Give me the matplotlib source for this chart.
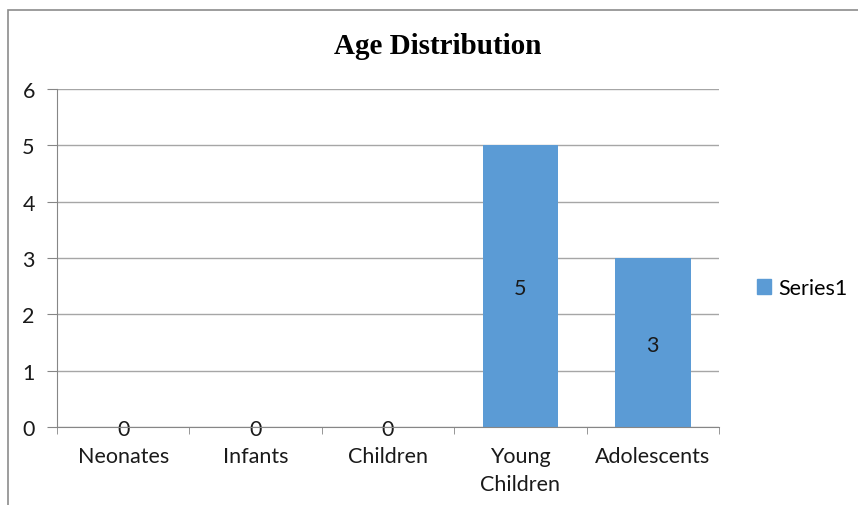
import matplotlib.pyplot as plt
from matplotlib.patches import Rectangle, Patch

# Datos del grafico
categorias = ['Neonates', 'Infants', 'Children', 'Young\nChildren', 'Adolescents']
valores = [0, 0, 0, 5, 3]
titulo = 'Age Distribution'
serie = 'Series1'

cor_barra = '#5B9BD5'
cor_grade = '#A6A6A6'
cor_eixo = '#868686'
cor_texto = '#1a1a1a'
tam = 15.5

plt.rcParams['font.family'] = ['Lato', 'DejaVu Sans']

fig = plt.figure(figsize=(8.58, 5.06), dpi=100)
ax = fig.add_axes([57/858, 1 - 428/506, (719 - 57)/858, (428 - 90)/506])

x = list(range(len(categorias)))
barras = ax.bar(x, valores, width=0.57, color=cor_barra, zorder=3)

# Rotulos de valor no centro de cada barra
for xi, v in zip(x, valores):
    ax.text(xi, v / 2, str(v), ha='center', va='center_baseline', fontsize=tam,
            color=cor_texto, zorder=4)

ax.set_xlim(-0.5, len(categorias) - 0.5)
ax.set_ylim(0, 6)
ax.set_yticks(range(0, 7))
ax.set_xticks(x)
ax.set_xticklabels(categorias, linespacing=1.45)
ax.set_xticks([i + 0.5 for i in range(-1, len(categorias))], minor=True)

ax.tick_params(axis='x', which='major', length=0, pad=14, labelsize=tam, labelcolor=cor_texto)
ax.tick_params(axis='x', which='minor', length=5, color=cor_eixo, direction='out')
ax.tick_params(axis='y', length=7, color=cor_eixo, pad=9, labelsize=tam, labelcolor=cor_texto)

ax.grid(axis='y', color=cor_grade, lw=1, zorder=0)
for lado in ['top', 'right']:
    ax.spines[lado].set_visible(False)
for lado in ['left', 'bottom']:
    ax.spines[lado].set_color(cor_eixo)
    ax.spines[lado].set_zorder(5)

fig.text(438/858, 1 - 46/506, titulo, ha='center', va='center', fontsize=21,
         fontweight='bold', family='Liberation Serif')

# Legenda
fig.legend(handles=[Patch(color=cor_barra, label=serie)], loc='center left',
           bbox_to_anchor=(757/858, 1 - 289/506), frameon=False, fontsize=tam,
           borderpad=0, borderaxespad=0,
           handlelength=0.65, handleheight=0.65, handletextpad=0.35)

# Borda externa do grafico
fig.patches.append(Rectangle((8/858, -0.1), 1.2, 1 - 11/506 + 0.1, transform=fig.transFigure,
                             fill=False, edgecolor='#8C8C8C', lw=1.2))

fig.savefig('out.png', dpi=100)
